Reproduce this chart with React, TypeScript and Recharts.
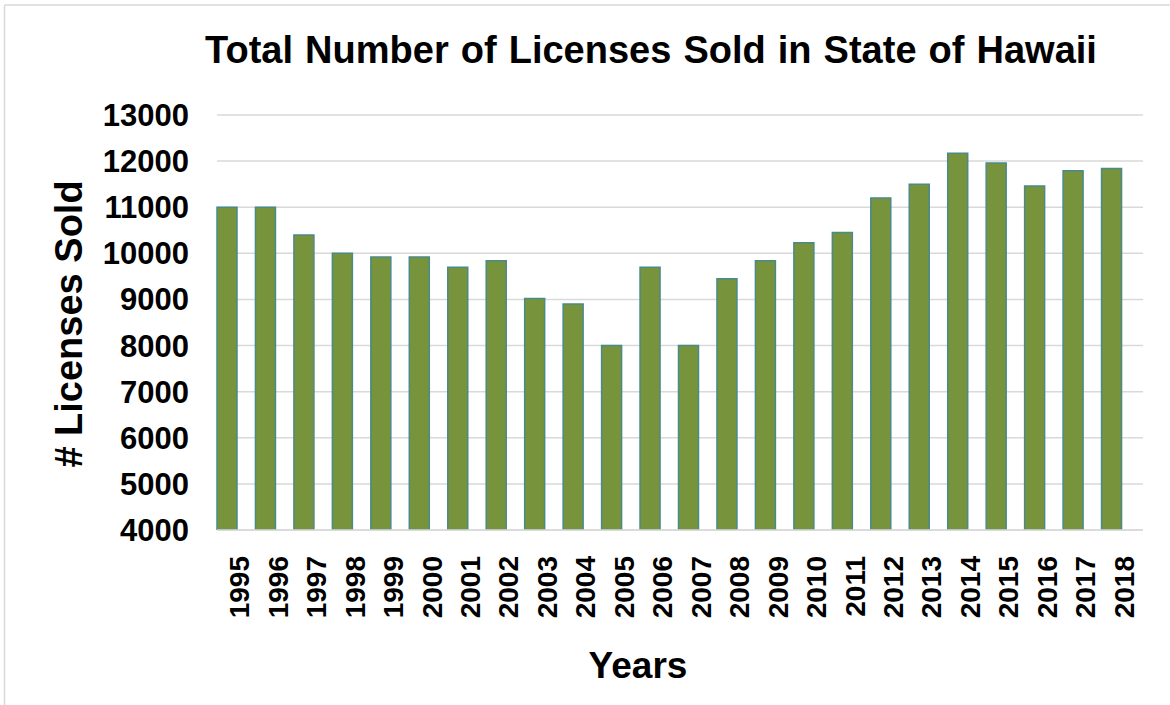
import React from "react";
import { BarChart, Bar, XAxis, YAxis, CartesianGrid } from "recharts";

// --- DATA ---
const YEARS = [
  "1995", "1996", "1997", "1998", "1999", "2000", "2001", "2002",
  "2003", "2004", "2005", "2006", "2007", "2008", "2009", "2010",
  "2011", "2012", "2013", "2014", "2015", "2016", "2017", "2018",
];
const LICENSES = [
  11000, 11000, 10400, 10000, 9920, 9920, 9700, 9840,
  9020, 8900, 8000, 9700, 8000, 9450, 9840, 10230,
  10450, 11200, 11500, 12170, 11960, 11460, 11790, 11840,
];
const Y_TICKS = [4000, 5000, 6000, 7000, 8000, 9000, 10000, 11000, 12000, 13000];

const data = YEARS.map((year, i) => ({ year, licenses: LICENSES[i] }));

const FONT = "'Liberation Sans', Arial, sans-serif";

function YearTick(props: any) {
  const { x, y, payload } = props;
  const ax = x + 22;
  const ay = y + 18;
  return (
    <text
      x={ax}
      y={ay}
      transform={`rotate(-90, ${ax}, ${ay})`}
      textAnchor="end"
      fontFamily={FONT}
      fontWeight="bold"
      fontSize={28}
      fill="#000"
    >
      {payload.value}
    </text>
  );
}

export default function App() {
  return (
    <div style={{ position: "absolute", left: 0, top: 0, width: 1170, height: 705, background: "#fff" }}>
      <BarChart
        width={1170}
        height={705}
        data={data}
        margin={{ top: 115, right: 27, bottom: 0, left: 0 }}
      >
        <CartesianGrid vertical={false} stroke="#d9d9d9" strokeWidth={1.5} />
        <XAxis
          dataKey="year"
          height={175}
          padding={{ left: -9, right: 12 }}
          tickLine={false}
          axisLine={{ stroke: "#d9d9d9", strokeWidth: 1.5 }}
          interval={0}
          tick={<YearTick />}
        />
        <YAxis
          width={217}
          domain={[4000, 13000]}
          ticks={Y_TICKS}
          allowDataOverflow
          tickLine={false}
          axisLine={false}
          tickMargin={22}
          tick={{ fontFamily: FONT, fontWeight: "bold", fontSize: 31, fill: "#000" }}
        />
        <Bar
          dataKey="licenses"
          fill="#77933C"
          stroke="#4A8A88"
          strokeWidth={1.5}
          barSize={20}
          isAnimationActive={false}
        />
      </BarChart>
      <svg
        width={1170}
        height={705}
        style={{ position: "absolute", left: 0, top: 0, pointerEvents: "none" }}
      >
        <line x1={4.5} y1={5} x2={1170} y2={5} stroke="#d9d9d9" strokeWidth={1.5} />
        <line x1={4.5} y1={5} x2={4.5} y2={705} stroke="#d9d9d9" strokeWidth={1.5} />
        <text
          x={651}
          y={63}
          textAnchor="middle"
          fontFamily={FONT}
          fontWeight="bold"
          fontSize={38}
          wordSpacing={1.5}
          fill="#000"
        >
          Total Number of Licenses Sold in State of Hawaii
        </text>
        <text
          transform="translate(82, 324) rotate(-90)"
          textAnchor="middle"
          fontFamily={FONT}
          fontWeight="bold"
          fontSize={38}
          fill="#000"
        >
          # Licenses Sold
        </text>
        <text x={638} y={678} textAnchor="middle" fontFamily={FONT} fontWeight="bold" fontSize={37} fill="#000">
          Years
        </text>
      </svg>
    </div>
  );
}
